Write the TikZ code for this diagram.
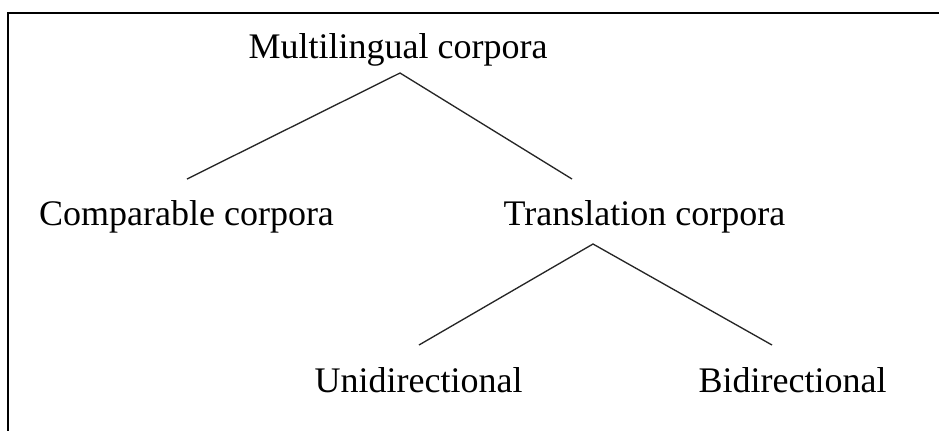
\documentclass[tikz,border=0pt]{standalone}
\usepackage{fontspec}
\setmainfont{Liberation Serif}
\begin{document}
\begin{tikzpicture}[x=0.75pt,y=-0.75pt,
  lbl/.style={inner sep=0pt,anchor=base,font=\fontsize{27}{32}\selectfont},
  branch/.style={line width=1pt,black!85},
  frame/.style={line width=1.6pt,black}]
\useasboundingbox (0,0) rectangle (939,430);
\draw[frame] (8,431) -- (8,13) -- (940,13);
\node[lbl] (mc) at (398,58) {Multilingual corpora};
\node[lbl] (cc) at (186.5,225) {Comparable corpora};
\node[lbl] (tc) at (644.5,225) {Translation corpora};
\node[lbl] (uni) at (418.5,392) {Unidirectional};
\node[lbl] (bi) at (792.5,392) {Bidirectional};
\coordinate (mcfoot) at (400,73);
\coordinate (cchead) at (187,179);
\coordinate (tchead) at (572,179);
\coordinate (tcfoot) at (593,244);
\coordinate (unihead) at (419,345);
\coordinate (bihead) at (772,345);
\draw[branch] (cchead) -- (mcfoot) -- (tchead);
\draw[branch] (unihead) -- (tcfoot) -- (bihead);
\end{tikzpicture}
\end{document}
